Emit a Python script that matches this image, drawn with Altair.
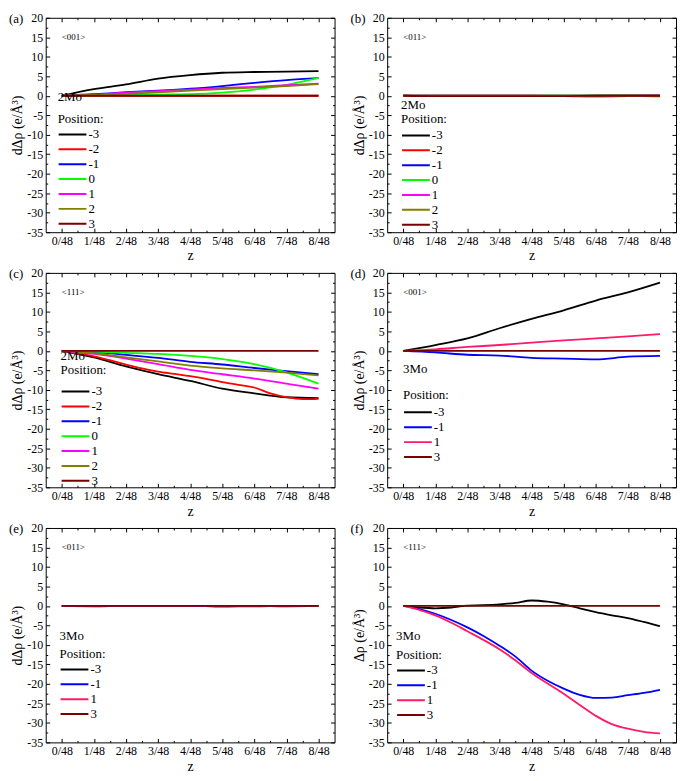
import altair as alt
import pandas as pd

FONT = "Liberation Serif"
W, H = 291, 216

Z_INT = [0, 1, 2, 3, 4, 5, 6, 7, 8]
Z_HALF = [0, 0.5, 1, 1.5, 2, 2.5, 3, 3.5, 4, 4.5, 5, 5.5, 6, 6.5, 7, 7.5, 8]
X_TICKS = [0, 0.5, 1, 1.5, 2, 2.5, 3, 3.5, 4, 4.5, 5, 5.5, 6, 6.5, 7, 7.5, 8]
Y_TICKS = [-35, -32.5, -30, -27.5, -25, -22.5, -20, -17.5, -15, -12.5, -10, -7.5, -5,
           -2.5, 0, 2.5, 5, 7.5, 10, 12.5, 15, 17.5, 20]

POS_2MO = ["-3", "-2", "-1", "0", "1", "2", "3"]
COLORS_2MO = ["#000000", "#ff0000", "#0000ff", "#00ff00", "#ff00ff", "#808000", "#7a0000"]
POS_3MO = ["-3", "-1", "1", "3"]
COLORS_3MO = ["#000000", "#0000ff", "#ff1a6a", "#7a0000"]

# (a) <001>, 2Mo
A_M3 = [0, 1.7, 2.9, 4.4, 5.3, 5.9, 6.1, 6.2, 6.3]
A_M2 = [0, 0, 0, 0, 0, 0, 0, 0, 0]
A_M1 = [0, 0.4, 0.9, 1.3, 1.8, 2.5, 3.3, 4.0, 4.5]
A_0 = [0, 0.1, 0.2, 0.3, 0.4, 0.8, 1.6, 2.8, 4.6]
A_1 = [0, 0.3, 0.8, 1.2, 1.6, 2.0, 2.3, 2.7, 3.1]
A_2 = [0, 0.2, 0.5, 0.9, 1.3, 1.7, 2.1, 2.5, 3.0]
A_3 = [0, 0, 0, 0, 0, 0, 0, 0, 0]

# (b) <011>, 2Mo
B_M3 = [0, -0.1, -0.1, -0.1, -0.1, -0.1, 0, 0, 0]
B_M2 = [0, 0, 0, 0, 0, 0, 0, 0, 0]
B_M1 = [0, 0, 0, 0, 0, 0, 0, 0, 0]
B_0 = [0, 0, 0, 0, 0, 0, 0, 0, -0.2]
B_1 = [0, 0, 0, 0, 0, -0.1, -0.2, -0.1, 0]
B_2 = [0, 0, 0, 0, 0, 0, 0, 0, 0]
B_3 = [0, -0.1, -0.1, -0.1, -0.1, -0.1, 0, 0, 0]

# (c) <111>, 2Mo
C_M3 = [0, -1.7, -4.0, -6.0, -7.7, -9.7, -10.9, -11.9, -12.1]
C_M2 = [0, -0.7, -1.4, -2.4, -3.5, -4.5, -5.3, -5.9, -6.5, -7.2, -8.0, -8.7, -9.4,
        -10.9, -11.9, -12.4, -12.3]
C_M1 = [0, -0.3, -1.0, -1.8, -2.8, -3.5, -4.4, -5.2, -6.0]
C_0 = [0, -0.2, -0.5, -0.8, -1.3, -2.1, -3.4, -5.5, -8.4]
C_1 = [0, -0.8, -2.0, -3.4, -4.9, -6.0, -7.1, -8.4, -9.7]
C_2 = [0, -0.6, -1.7, -2.7, -3.8, -4.5, -5.0, -5.6, -6.3]
C_3 = [0, 0, 0, 0, 0, 0, 0, 0, 0]

# (d) <001>, 3Mo
D_M3 = [0, 1.5, 3.2, 5.8, 8.2, 10.4, 12.9, 15.0, 17.5]
D_M1 = [0, -0.4, -1.0, -1.2, -1.8, -2.0, -2.2, -1.5, -1.3]
D_1 = [0, 0.4, 1.0, 1.5, 2.1, 2.7, 3.2, 3.7, 4.3]
D_3 = [0, 0, 0, 0, 0, 0, 0, 0, 0]

# (e) <011>, 3Mo
E_M3 = [0, -0.1, 0, 0, 0, -0.1, 0, -0.1, 0]
E_M1 = [0, 0, 0, 0, 0, -0.1, -0.1, 0, 0]
E_1 = [0, 0, 0, 0, 0, 0, 0, 0, 0]
E_3 = [0, 0, 0, 0, 0, 0, 0, 0, 0]

# (f) <111>, 3Mo
F_M3 = [0, -0.4, -0.6, -0.4, 0.1, 0.2, 0.4, 0.8, 1.4, 1.1, 0.4, -0.6, -1.6, -2.4,
        -3.1, -4.1, -5.2]
F_M1 = [0, -0.8, -2.0, -3.6, -5.5, -7.7, -10.2, -13.0, -16.6, -19.2, -21.2, -22.8,
        -23.6, -23.5, -22.9, -22.3, -21.5]
F_1 = [0, -1.0, -2.4, -4.3, -6.5, -8.7, -11.1, -14.0, -17.2, -19.9, -22.5, -25.4,
       -28.2, -30.3, -31.5, -32.3, -32.7]
F_3 = [0, 0, 0, 0, 0, 0, 0, 0, 0, 0, 0, 0, 0, 0, 0, 0, 0]

YTITLE_D = "dΔρ (e/Å³)"
YTITLE = "Δρ (e/Å³)"

X_DASH = {"condition": {"test": "datum.value % 1 !== 0", "value": [0, 2, 2, 30]},
          "value": [30, 0]}
Y_DASH = {"condition": {"test": "datum.value % 5 !== 0", "value": [0, 2, 2, 30]},
          "value": [30, 0]}


def make_panel(tag, direction, mo, positions, colors, series, ytitle,
               legend_x, legend_y, title_lh, title_pad):
    rows = []
    for pos, (zs, vals) in zip(positions, series):
        for z, v in zip(zs, vals):
            rows.append({"z": z, "v": v, "pos": pos})
    df = pd.DataFrame(rows)
    xs = alt.Scale(domain=[-0.5, 8.5], nice=False, zero=False)
    ys = alt.Scale(domain=[-35, 20], nice=False, zero=False)

    lines = alt.Chart(df).mark_line(strokeWidth=1.8, interpolate="monotone").encode(
        x=alt.X("z:Q", scale=xs, axis=alt.Axis(
            orient="bottom", values=X_TICKS, title="z", domain=False, grid=False,
            tickSize=4, offset=-4, tickDash=X_DASH, labelPadding=3, minExtent=0,
            labelExpr="datum.value % 1 === 0 ? datum.value + '/48' : ''",
            labelOverlap=False, labelFlush=False, titlePadding=3)),
        y=alt.Y("v:Q", scale=ys, axis=alt.Axis(
            orient="left", values=Y_TICKS, title=ytitle, domain=False, grid=False,
            tickSize=4, offset=-4, tickDash=Y_DASH, labelPadding=3, minExtent=0,
            labelExpr="datum.value % 5 === 0 ? datum.value : ''",
            labelOverlap=False, labelFlush=False, titlePadding=2)),
        color=alt.Color("pos:N", sort=positions,
                        scale=alt.Scale(domain=positions, range=colors),
                        legend=alt.Legend(
                            title=[mo, "Position:"], orient="none", legendX=legend_x,
                            legendY=legend_y, symbolType="stroke", symbolSize=784,
                            symbolStrokeWidth=2, labelFont=FONT, labelFontSize=13,
                            titleFont=FONT, titleFontSize=13, titleFontWeight="normal",
                            titleLineHeight=title_lh, titlePadding=title_pad,
                            labelOffset=1, padding=0, rowPadding=1, clipHeight=13,
                            labelColor="black", titleColor="black")),
    )

    dir_df = pd.DataFrame({"z": [0], "v": [15], "t": [direction]})
    dir_text = alt.Chart(dir_df).mark_text(
        align="left", baseline="middle", fontSize=9, font=FONT, color="black"
    ).encode(
        x=alt.X("z:Q", scale=xs, axis=alt.Axis(
            orient="top", values=X_TICKS, labels=False, title=None, domain=False,
            grid=False, tickSize=4, offset=-4, tickDash=X_DASH, minExtent=0)),
        y=alt.Y("v:Q", scale=ys, axis=alt.Axis(
            orient="right", values=Y_TICKS, labels=False, title=None, domain=False,
            grid=False, tickSize=4, offset=-4, tickDash=Y_DASH, minExtent=0)),
        text="t:N",
    )

    tag_df = pd.DataFrame({"t": [tag]})
    tag_text = alt.Chart(tag_df).mark_text(
        align="left", baseline="middle", fontSize=13, font=FONT, color="black"
    ).encode(x=alt.value(-37), y=alt.value(1), text="t:N")

    return alt.layer(lines, dir_text, tag_text).resolve_axis(
        x="independent", y="independent"
    ).properties(width=W, height=H)


pa = make_panel("(a)", "<001>", "2Mo", POS_2MO, COLORS_2MO,
                [(Z_INT, A_M3), (Z_INT, A_M2), (Z_INT, A_M1), (Z_INT, A_0),
                 (Z_INT, A_1), (Z_INT, A_2), (Z_INT, A_3)], YTITLE_D,
                12, 74, 22, 2)
pb = make_panel("(b)", "<011>", "2Mo", POS_2MO, COLORS_2MO,
                [(Z_INT, B_M3), (Z_INT, B_M2), (Z_INT, B_M1), (Z_INT, B_0),
                 (Z_INT, B_1), (Z_INT, B_2), (Z_INT, B_3)], YTITLE_D,
                14, 82, 14, 3)
pc = make_panel("(c)", "<111>", "2Mo", POS_2MO, COLORS_2MO,
                [(Z_INT, C_M3), (Z_HALF, C_M2), (Z_INT, C_M1), (Z_INT, C_0),
                 (Z_INT, C_1), (Z_INT, C_2), (Z_INT, C_3)], YTITLE_D,
                15, 78, 14, 8)
pd_ = make_panel("(d)", "<001>", "3Mo", POS_3MO, COLORS_3MO,
                 [(Z_INT, D_M3), (Z_INT, D_M1), (Z_INT, D_1), (Z_INT, D_3)],
                 YTITLE_D, 16, 91, 26, 4)
pe = make_panel("(e)", "<011>", "3Mo", POS_3MO, COLORS_3MO,
                [(Z_INT, E_M3), (Z_INT, E_M1), (Z_INT, E_1), (Z_INT, E_3)],
                YTITLE_D, 14, 103, 18, 2)
pf = make_panel("(f)", "<111>", "3Mo", POS_3MO, COLORS_3MO,
                [(Z_HALF, F_M3), (Z_HALF, F_M1), (Z_HALF, F_1), (Z_HALF, F_3)],
                YTITLE, 9, 103, 19, 2)

HS, VS = 14, 2


def row(left, right):
    return alt.hconcat(left, right, spacing=HS).resolve_scale(
        color="independent").resolve_legend(color="independent")


chart = alt.vconcat(
    row(pa, pb), row(pc, pd_), row(pe, pf), spacing=VS,
).resolve_scale(color="independent").resolve_legend(color="independent").properties(
    padding=0
).configure_axis(
    labelFont=FONT, labelFontSize=12, labelColor="black",
    titleFont=FONT, titleFontSize=14, titleFontWeight="normal", titleColor="black",
    tickColor="black", tickWidth=1,
).configure_view(stroke="black", strokeWidth=1)

chart.save("out.html", embed_options={"renderer": "svg", "actions": False})
